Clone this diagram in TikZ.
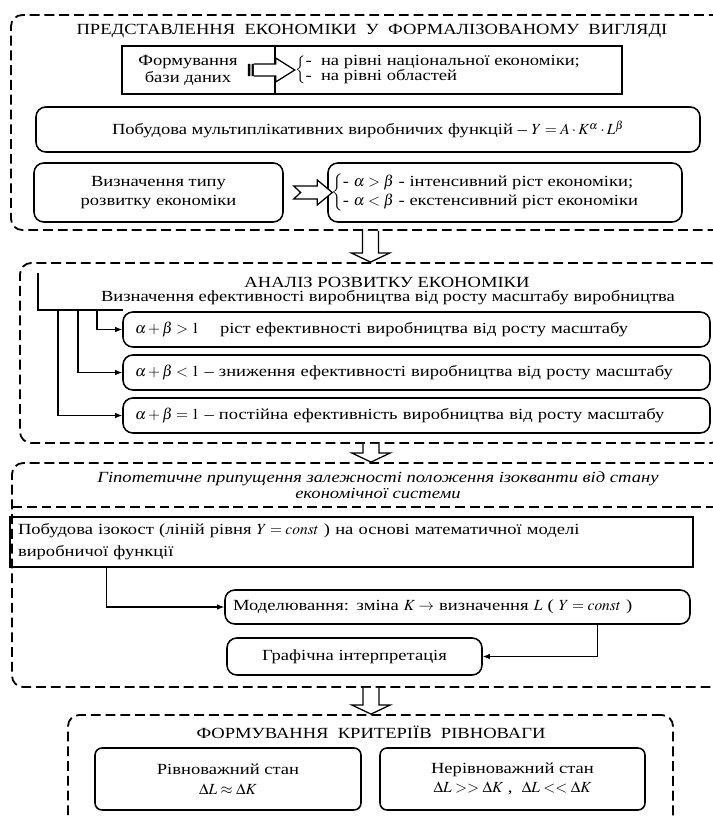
\documentclass[tikz,border=0pt]{standalone}
\usepackage{mathptmx}
\usepackage{fontspec}
\setmainfont{Liberation Serif}[FakeStretch=1.2]
\usetikzlibrary{calc, arrows.meta}

\begin{document}
\begin{tikzpicture}[
    x=0.025cm, y=-0.025cm,
    font=\fontsize{11}{13}\selectfont,
    sz/.style 2 args={minimum width=#1*0.025cm, minimum height=#2*0.025cm},
    group/.style={draw, dash pattern=on 7pt off 3.5pt, line width=1.3pt, rounded corners=8pt, inner sep=0pt},
    groupline/.style={draw, dash pattern=on 7pt off 3.5pt, line width=1.3pt},
    box/.style={draw, line width=1.1pt, rounded corners=7pt, inner sep=0pt, align=center},
    lbox/.style={box, inner xsep=0.3cm, inner ysep=0pt, align=left},
    plainbox/.style={draw, line width=1.1pt, inner sep=0pt},
    txt/.style={inner sep=0pt, align=center},
    arr/.style={-{Latex[length=5pt,width=4pt]}, line width=0.8pt},
    blk/.style={draw, fill=white, line width=0.9pt, line join=miter}
]
\path[use as bounding box, fill=white] (0,0) rectangle (712,817);

% groups
\node[group, sz={719}{215}] (repr) at (370.5,122.5) {};
\node[group, sz={702}{180}] (anal) at (371,353) {};
\node[group, sz={718}{224}] (hyp) at (371,575) {};
\node[group, sz={605}{130}] (crit) at (370.5,780) {};

% representation
\node[txt] (reprtitle) at (372,31) {ПРЕДСТАВЛЕННЯ\ \ ЕКОНОМІКИ\ \ У\ \ ФОРМАЛІЗОВАНОМУ\ \ ВИГЛЯДІ};
\node[plainbox, sz={153}{48}] (formL) at (198.5,70) {};
\node[plainbox, sz={347}{48}] (formR) at (448.5,70) {};
\node[txt, font=\fontsize{11}{12}\selectfont] (formtxt) at (188,70) {Формування\\бази даних};
\fill let \p1=(formL.east) in (\x1-19.9pt,\y1-4.3pt) rectangle (\x1-18.1pt,\y1+4.3pt)
                           (\x1-17.1pt,\y1-4.3pt) rectangle (\x1-15.6pt,\y1+4.3pt);
\draw[blk] let \p1=(formL.east) in (\x1-15.6pt,\y1+4.3pt) -- (\x1,\y1+4.3pt) -- (\x1,\y1+8.5pt)
    -- (\x1+13.5pt,\y1) -- (\x1,\y1-8.5pt) -- (\x1,\y1-4.3pt) -- (\x1-15.6pt,\y1-4.3pt);
\node[txt, anchor=west, font=\fontsize{11}{11}\selectfont] (levels) at (295,70)
    {\renewcommand{\arraystretch}{0.95}$\left\{\begin{tabular}{@{}l@{}}-\ \ на рівні національної економіки;\\-\ \ на рівні областей\end{tabular}\right.$};
\node[box, sz={664}{45}] (prod) at (368,129.5) {Побудова мультиплікативних виробничих функцій -- $Y = A\cdot K^{\alpha}\cdot L^{\beta}$};
\node[box, sz={249}{59}, font=\fontsize{11}{13.5}\selectfont] (typ) at (158.5,192.5) {Визначення типу\\розвитку економіки};
\node[box, sz={354}{59}] (growth) at (505,192.5) {};
\node[txt, anchor=west, font=\fontsize{11}{13.5}\selectfont] (growthtxt) at (331,192.5)
    {$\left\{\begin{tabular}{@{}l@{}}- $\alpha>\beta$\ - інтенсивний ріст економіки;\\- $\alpha<\beta$\ - екстенсивний ріст економіки\end{tabular}\right.$};
\draw[blk] let \p1=(typ.east), \p2=(growth.west) in
    (\x1+7.1pt,\y1+4.6pt) -- (\x1+12pt,\y1) -- (\x1+7.1pt,\y1-4.6pt) -- (\x2-7.1pt,\y1-4.6pt)
    -- (\x2-7.1pt,\y1-8.9pt) -- (\x2+3.6pt,\y1) -- (\x2-7.1pt,\y1+8.9pt) -- (\x2-7.1pt,\y1+4.6pt) -- cycle;

% analysis
\node[txt] (analtitle) at (387,282) {АНАЛІЗ РОЗВИТКУ ЕКОНОМІКИ};
\node[txt] (effline) at (388,298) {Визначення ефективності виробництва від росту масштабу виробництва};
\node[lbox, sz={587}{35}, text width=14.07cm] (g1) at (416.5,329.5) {$\alpha+\beta>1$\quad\ ріст ефективності виробництва від росту масштабу};
\node[lbox, sz={587}{35}, text width=14.07cm] (g2) at (416.5,372.5) {$\alpha+\beta<1$ -- зниження ефективності виробництва від росту масштабу};
\node[lbox, sz={587}{35}, text width=14.07cm] (g3) at (416.5,415.5) {$\alpha+\beta=1$ -- постійна ефективність виробництва від росту масштабу};
\coordinate (brtop) at (38,273);
\coordinate (brknee) at (38,310);
\coordinate (brend) at (123,310);
\draw[line width=0.8pt] (brtop) -- (brknee) -- (brend);
\coordinate (d1) at (97,310);
\coordinate (d2) at (78,310);
\coordinate (d3) at (58,310);
\draw[arr] (d1) |- (g1.west);
\draw[arr] (d2) |- (g2.west);
\draw[arr] (d3) |- (g3.west);

% hypothesis
\coordinate (hypsplit) at (12,507);
\draw[groupline] (hypsplit) -- (hypsplit -| hyp.east);
\node[txt, font=\fontsize{11}{11.5}\selectfont\itshape] (hyptxt) at (378,485)
    {Гіпотетичне припущення залежності положення ізокванти від стану\\економічної системи};
\node[plainbox, sz={683}{50}, inner xsep=0.2cm, text width=16.67cm, align=left, font=\fontsize{11}{15.5}\selectfont] (iso) at (351.5,542)
    {Побудова ізокост (ліній рівня $Y = const$ ) на основі математичної моделі\\виробничої функції};
\node[lbox, sz={465}{34}, inner xsep=0.2cm, text width=11.22cm] (model) at (457.5,607)
    {Моделювання: зміна $K \rightarrow$ визначення $L$ ( $Y = const$ )};
\node[box, sz={255}{37}] (graph) at (354.5,656.5) {Графічна інтерпретація};
\draw[arr] ([xshift=2.425cm]iso.south west) |- (model.west);
\draw[arr] ([xshift=9.325cm]model.south west) |- (graph.east);

% criteria
\node[txt] (crittitle) at (371,732) {ФОРМУВАННЯ\ \ КРИТЕРІЇВ\ \ РІВНОВАГИ};
\node[box, rounded corners=5pt, sz={266}{62}, font=\fontsize{11}{14}\selectfont] (eq) at (228,779)
    {Рівноважний стан\\$\Delta L \approx \Delta K$};
\node[box, rounded corners=5pt, sz={265}{62}, font=\fontsize{11}{14}\selectfont] (neq) at (512.5,779)
    {Нерівноважний стан\\$\Delta L >> \Delta K$ ,\ \ $\Delta L << \Delta K$};

% block arrows between groups
\foreach \a/\b in {repr/anal, anal/hyp, hyp/crit}
  \draw[blk] let \p1=(\a.south), \p2=(\b.north) in
    (\x1-5.7pt,\y1) -- (\x1-5.7pt,\y2+6.4pt) -- (\x1-13.5pt,\y2+6.4pt) -- (\x1,\y2)
    -- (\x1+13.5pt,\y2+6.4pt) -- (\x1+5.7pt,\y2+6.4pt) -- (\x1+5.7pt,\y1);
\end{tikzpicture}
\end{document}
